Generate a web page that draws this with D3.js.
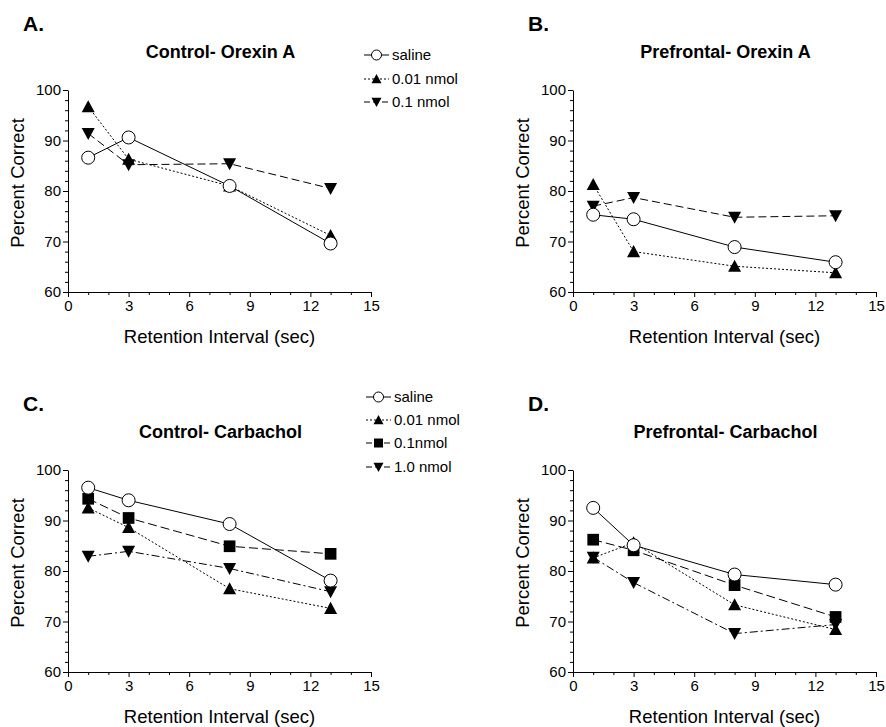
<!DOCTYPE html>
<html><head><meta charset="utf-8">
<script src="https://cdn.jsdelivr.net/npm/d3@7"></script>
<style>
html,body{margin:0;padding:0;background:#fff;}
svg{display:block;font-family:"Liberation Sans",Arial,Helvetica,sans-serif;}
</style></head>
<body>
<svg id="chart" width="886" height="727"></svg>
<script>
// ---------- data ----------
const retentionIntervals = [1, 3, 8, 13];
const xTickValues = [0, 3, 6, 9, 12, 15];
const yTickValues = [60, 70, 80, 90, 100];

const orexinLegend = ["saline", "0.01 nmol", "0.1 nmol"];
const carbacholLegend = ["saline", "0.01 nmol", "0.1nmol", "1.0 nmol"];

const controlOrexinSaline = [86.6, 90.6, 81.0, 69.6];
const controlOrexin001 = [96.7, 86.3, 81.0, 71.2];
const controlOrexin01 = [91.4, 85.2, 85.4, 80.5];

const prefrontalOrexinSaline = [75.3, 74.4, 68.9, 65.9];
const prefrontalOrexin001 = [81.3, 68.0, 65.1, 63.8];
const prefrontalOrexin01 = [77.0, 78.7, 74.8, 75.1];

const controlCarbSaline = [96.5, 94.0, 89.3, 78.1];
const controlCarb001 = [92.5, 88.6, 76.5, 72.6];
const controlCarb01 = [94.3, 90.5, 84.9, 83.4];
const controlCarb10 = [82.9, 83.9, 80.5, 75.9];

const prefrontalCarbSaline = [92.5, 85.1, 79.3, 77.3];
const prefrontalCarb001 = [82.6, 85.6, 73.3, 68.4];
const prefrontalCarb01 = [86.2, 84.1, 77.2, 70.9];
const prefrontalCarb10 = [82.7, 77.7, 67.6, 69.4];

// ---------- styles ----------
const styles = {
  saline: {marker: "circle", dash: null},
  d001:   {marker: "triUp", dash: "2,2"},
  d01o:   {marker: "triDown", dash: "8,4"},
  d01c:   {marker: "square", dash: "9,4"},
  d10:    {marker: "triDown", dash: "8,3,2,3"}
};

const panels = [
  {letter: "A.", title: "Control- Orexin A", ox: 68, oy: 90,
   series: [
     {name: orexinLegend[2], v: controlOrexin01, s: styles.d01o},
     {name: orexinLegend[1], v: controlOrexin001, s: styles.d001},
     {name: orexinLegend[0], v: controlOrexinSaline, s: styles.saline}],
   legend: {items: orexinLegend, styles: [styles.saline, styles.d001, styles.d01o], x: 364, ys: [55, 79, 102]}},
  {letter: "B.", title: "Prefrontal- Orexin A", ox: 573, oy: 90,
   series: [
     {name: orexinLegend[2], v: prefrontalOrexin01, s: styles.d01o},
     {name: orexinLegend[1], v: prefrontalOrexin001, s: styles.d001},
     {name: orexinLegend[0], v: prefrontalOrexinSaline, s: styles.saline}]},
  {letter: "C.", title: "Control- Carbachol", ox: 68, oy: 470,
   series: [
     {name: carbacholLegend[3], v: controlCarb10, s: styles.d10},
     {name: carbacholLegend[1], v: controlCarb001, s: styles.d001},
     {name: carbacholLegend[2], v: controlCarb01, s: styles.d01c},
     {name: carbacholLegend[0], v: controlCarbSaline, s: styles.saline}],
   legend: {items: carbacholLegend, styles: [styles.saline, styles.d001, styles.d01c, styles.d10], x: 366, ys: [397, 420, 443, 467]}},
  {letter: "D.", title: "Prefrontal- Carbachol", ox: 573, oy: 470,
   series: [
     {name: carbacholLegend[3], v: prefrontalCarb10, s: styles.d10},
     {name: carbacholLegend[1], v: prefrontalCarb001, s: styles.d001},
     {name: carbacholLegend[2], v: prefrontalCarb01, s: styles.d01c},
     {name: carbacholLegend[0], v: prefrontalCarbSaline, s: styles.saline}]}
];

const W = 303, H = 202;
const svg = d3.select("#chart");

function markerPath(type, r) {
  const p = d3.path();
  if (type === "triUp") {
    p.moveTo(0, -r); p.lineTo(r, r * 0.85); p.lineTo(-r, r * 0.85); p.closePath();
  } else if (type === "triDown") {
    p.moveTo(0, r); p.lineTo(r, -r * 0.85); p.lineTo(-r, -r * 0.85); p.closePath();
  } else if (type === "square") {
    p.rect(-r * 0.9, -r * 0.9, r * 1.8, r * 1.8);
  }
  return p.toString();
}

function drawMarker(g, type, x, y, r) {
  if (type === "circle") {
    g.append("circle").attr("cx", x).attr("cy", y).attr("r", r)
      .attr("fill", "#fff").attr("stroke", "#000").attr("stroke-width", 1);
  } else {
    g.append("path").attr("d", markerPath(type, r))
      .attr("transform", `translate(${x},${y})`).attr("fill", "#000");
  }
}

panels.forEach(P => {
  const g = svg.append("g").attr("transform", `translate(${P.ox},${P.oy})`);
  const x = d3.scaleLinear().domain([0, 15]).range([0, W]);
  const y = d3.scaleLinear().domain([60, 100]).range([H, 0]);

  // minor ticks
  g.append("g").attr("transform", `translate(0,${H})`)
    .call(d3.axisBottom(x).tickValues(d3.range(0, 16).filter(d => d % 3 !== 0)).tickSize(3).tickFormat(""))
    .call(a => a.select(".domain").remove());
  g.append("g")
    .call(d3.axisLeft(y).tickValues(d3.range(60, 101, 2).filter(d => d % 10 !== 0)).tickSize(3).tickFormat(""))
    .call(a => a.select(".domain").remove());
  // major axes
  const xa = g.append("g").attr("transform", `translate(0,${H})`)
    .call(d3.axisBottom(x).tickValues(xTickValues).tickSize(5).tickSizeOuter(0).tickPadding(3));
  const ya = g.append("g")
    .call(d3.axisLeft(y).tickValues(yTickValues).tickSize(5).tickSizeOuter(0).tickPadding(2));
  [xa, ya].forEach(a => {
    a.selectAll("text").attr("font-size", 15).attr("font-family", "Liberation Sans, Arial, sans-serif").attr("fill", "#000");
    a.selectAll("line,path").attr("stroke", "#000");
  });
  g.selectAll(".tick line").attr("stroke", "#000");

  // axis titles
  g.append("text").attr("x", W / 2).attr("y", H + 51).attr("text-anchor", "middle")
    .attr("font-size", 18.5).text("Retention Interval (sec)");
  g.append("text").attr("transform", `translate(-44,${H / 2 - 8}) rotate(-90)`)
    .attr("text-anchor", "middle").attr("font-size", 18.5).text("Percent Correct");

  // panel title & letter
  g.append("text").attr("x", W / 2 + 1).attr("y", -32).attr("text-anchor", "middle")
    .attr("font-size", 18).attr("font-weight", "bold").text(P.title);
  g.append("text").attr("x", -45).attr("y", -59)
    .attr("font-size", 21).attr("font-weight", "bold").text(P.letter);

  // series
  const line = d3.line().x((d, i) => x(retentionIntervals[i])).y(d => y(d));
  P.series.forEach(S => {
    const sg = g.append("g");
    sg.append("path").datum(S.v).attr("d", line).attr("fill", "none")
      .attr("stroke", "#000").attr("stroke-width", 1)
      .attr("stroke-dasharray", S.s.dash);
    S.v.forEach((v, i) => drawMarker(sg, S.s.marker, x(retentionIntervals[i]), y(v), S.s.marker === "circle" ? 6.5 : 6.5));
  });

  // legend
  if (P.legend) {
    const L = P.legend;
    L.items.forEach((name, i) => {
      const st = L.styles[i];
      const yy = L.ys[i];
      const lg = svg.append("g");
      lg.append("line").attr("x1", L.x).attr("x2", L.x + 25).attr("y1", yy).attr("y2", yy)
        .attr("stroke", "#000").attr("stroke-width", 1)
        .attr("stroke-dasharray", st.dash ? (st.dash === "2,2" ? "2,2" : "6,3") : null);
      drawMarker(lg, st.marker, L.x + 12.5, yy, st.marker === "circle" ? 5 : 5);
      lg.append("text").attr("x", L.x + 28).attr("y", yy + 5).attr("font-size", 15).text(name);
    });
  }
});
</script>
</body></html>
